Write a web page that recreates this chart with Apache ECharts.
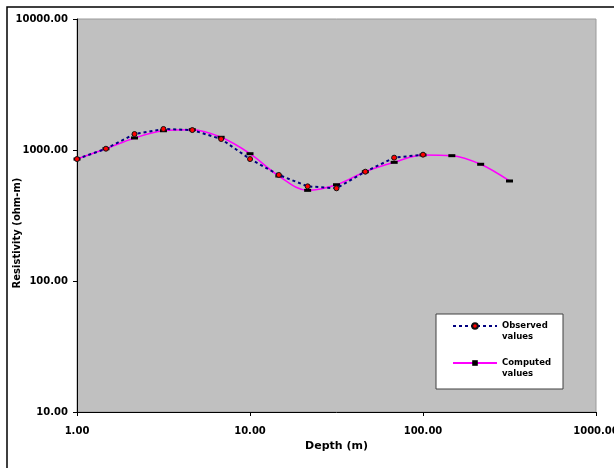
<!DOCTYPE html>
<html>
<head>
<meta charset="utf-8">
<script src="https://cdn.jsdelivr.net/npm/echarts@6/dist/echarts.min.js"></script>
<style>html,body{margin:0;padding:0;background:#fff;}#c{width:614px;height:468px;}</style>
</head>
<body>
<div id="c"></div>
<script>
const depth = [1.00, 1.47, 2.15, 3.16, 4.64, 6.81, 10.00, 14.68, 21.54, 31.62, 46.42, 68.13, 100.00, 146.78, 215.44, 316.23];
const observed = [853, 1023, 1324, 1447, 1420, 1213, 853, 645, 528, 510, 683, 874, 921];
const computed = [853, 1023, 1235, 1403, 1429, 1250, 937, 633, 492, 543, 683, 805, 916, 905, 778, 580];
const xTicks = [1, 10, 100, 1000];
const yTicks = [10, 100, 1000, 10000];

const obsData = observed.map((v, i) => [depth[i], v]);
const compData = computed.map((v, i) => [depth[i], v]);
const FONT = 'DejaVu Sans';

const chart = echarts.init(document.getElementById('c'), null, {renderer: 'canvas'});
chart.setOption({
  animation: false,
  backgroundColor: '#ffffff',
  grid: {left: 77, top: 19, right: 18, bottom: 56, containLabel: false, outerBoundsMode: 'none',
         show: true, backgroundColor: '#c0c0c0', borderColor: '#9a9a9a', borderWidth: 1},
  xAxis: {
    type: 'log', logBase: 10, min: xTicks[0], max: xTicks[xTicks.length - 1],
    name: 'Depth (m)', nameLocation: 'middle', nameGap: 29,
    nameTextStyle: {fontFamily: FONT, fontWeight: 'bold', fontSize: 11, color: '#000'},
    axisLine: {lineStyle: {color: '#000', width: 1}},
    axisTick: {show: true, inside: false, length: 4, lineStyle: {color: '#000'}},
    minorTick: {show: false},
    splitLine: {show: false},
    axisLabel: {margin: 14, fontFamily: FONT, fontWeight: 'bold', fontSize: 10, color: '#000', formatter: v => Number(v).toFixed(2)}
  },
  yAxis: {
    type: 'log', logBase: 10, min: yTicks[0], max: yTicks[yTicks.length - 1],
    axisLine: {show: true, lineStyle: {color: '#000', width: 1}},
    axisTick: {show: true, inside: false, length: 4, lineStyle: {color: '#000'}},
    splitLine: {show: false},
    axisLabel: {margin: 9, fontFamily: FONT, fontWeight: 'bold', fontSize: 10, color: '#000', formatter: v => Number(v).toFixed(2)}
  },
  legend: {
    orient: 'vertical', left: 452, top: 309.5, padding: 0, itemGap: 4,
    itemWidth: 44, itemHeight: 7,
    data: ['Observed values', 'Computed values'],
    formatter: n => '\n' + n.replace(' ', '\n'),
    textStyle: {fontFamily: FONT, fontWeight: 'bold', fontSize: 8.5, color: '#000', lineHeight: 11}
  },
  graphic: [
    {type: 'rect', shape: {x: 7, y: 7, width: 640, height: 500}, style: {fill: 'none', stroke: '#000', lineWidth: 1.5}, silent: true, z: -10},
    {type: 'rect', shape: {x: 436, y: 314, width: 127, height: 75}, style: {fill: '#fff', stroke: '#404040', lineWidth: 1}, silent: true, z: 1},
    {type: 'text', x: 17, y: 233, rotation: Math.PI / 2, style: {text: 'Resistivity (ohm-m)', fontFamily: FONT, fontWeight: 'bold', fontSize: 10, fill: '#000', align: 'center', verticalAlign: 'middle'}, silent: true}
  ],
  series: [
    {
      name: 'Observed values', type: 'line', data: obsData, z: 3,
      lineStyle: {color: '#000080', width: 2, type: [3, 3]},
      symbol: 'circle', symbolSize: 5,
      itemStyle: {color: '#ff0000', borderColor: '#111', borderWidth: 1}
    },
    {
      name: 'Computed values', type: 'line', data: compData, smooth: 0.35, z: 2,
      lineStyle: {color: '#ff00ff', width: 1.5},
      symbol: 'rect', symbolSize: [7, 3],
      itemStyle: {color: '#000', borderWidth: 0}
    }
  ]
});
</script>
</body>
</html>
